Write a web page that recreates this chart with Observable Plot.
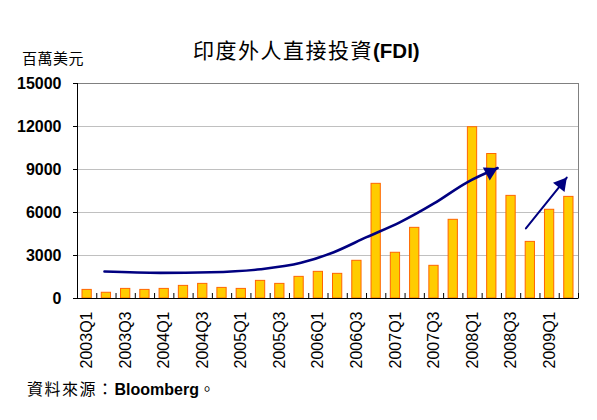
<!DOCTYPE html>
<html>
<head>
<meta charset="utf-8">
<script src="https://cdn.jsdelivr.net/npm/d3@7"></script>
<script src="https://cdn.jsdelivr.net/npm/@observablehq/plot@0.6"></script>
<style>
  html, body { margin: 0; padding: 0; background: #fff; }
  #wrap { position: relative; width: 597px; height: 420px; overflow: hidden; }
  .ov { position: absolute; white-space: nowrap; line-height: 1; color: #000; }
  .cjk { font-family: "Noto Sans CJK TC", "Noto Sans CJK SC", sans-serif; }
  .lat { font-family: "Liberation Sans", Arial, sans-serif; font-weight: bold; }
</style>
</head>
<body>
<div id="wrap">
  <div id="chart"></div>
  <div class="ov" style="left:193px; top:39px; font-size:21px;"><span class="cjk" style="letter-spacing:1.5px;">印度外人直接投資</span><span class="lat" style="font-size:20.5px;">(FDI)</span></div>
  <div class="ov cjk" style="left:22px; top:50px; font-size:15px; letter-spacing:0.5px;">百萬美元</div>
  <div class="ov" style="left:27px; top:380px; font-size:16px;"><span class="cjk" style="letter-spacing:1.5px;">資料來源：</span><span class="lat" style="font-size:16px;">Bloomberg</span><span class="cjk">。</span></div>
</div>
<script>
const quarters = [
  "2003Q1","2003Q2","2003Q3","2003Q4",
  "2004Q1","2004Q2","2004Q3","2004Q4",
  "2005Q1","2005Q2","2005Q3","2005Q4",
  "2006Q1","2006Q2","2006Q3","2006Q4",
  "2007Q1","2007Q2","2007Q3","2007Q4",
  "2008Q1","2008Q2","2008Q3","2008Q4",
  "2009Q1","2009Q2"
];
const fdi = [
  600, 400, 670, 600,
  670, 880, 1020, 740,
  670, 1230, 1020, 1510,
  1860, 1720, 2630, 8000,
  3190, 4930, 2280, 5490,
  11950, 10080, 7160, 3950,
  6190, 7090
];
const tickLabels = ["2003Q1","2003Q3","2004Q1","2004Q3","2005Q1","2005Q3","2006Q1","2006Q3","2007Q1","2007Q3","2008Q1","2008Q3","2009Q1"];
const yTicks = [0, 3000, 6000, 9000, 12000, 15000];
const gridValues = [3000, 6000, 9000, 12000];
// trend arrow (x in quarter-index units, y in 百萬美元)
const trendX = [1.4, 4.3, 6.9, 9.5, 11.6, 13.3, 15.0, 16.75, 18.5, 20.2, 21.8];
const trendY = [1880, 1790, 1830, 2040, 2490, 3230, 4280, 5330, 6630, 8090, 9100];
const arrow2X = [23.27, 25.39];
const arrow2Y = [4885, 8440];

const bars = fdi.map((v, i) => ({i, q: quarters[i], v}));
const boundaries = d3.range(quarters.length + 1);
const trend = trendX.map((x, k) => ({x, y: trendY[k]}));
const arrow2 = arrow2X.map((x, k) => ({x, y: arrow2Y[k]}));
const labelPos = tickLabels.map(t => quarters.indexOf(t) + 0.5);
const navy = "#000080";
const latin = "Liberation Sans";

const chart = Plot.plot({
  width: 597,
  height: 420,
  marginLeft: 77,
  marginRight: 19,
  marginTop: 83,
  marginBottom: 122,
  style: {fontFamily: latin, fontSize: "13px", color: "#000", background: "#fff"},
  x: {domain: [0, quarters.length], label: null},
  y: {domain: [0, 15000], label: null},
  marks: [
    Plot.gridY(gridValues, {stroke: "#c0c0c0", strokeOpacity: 1}),
    Plot.frame({stroke: "#808080"}),
    Plot.rectY(bars, {x1: d => d.i, x2: d => d.i + 1, y1: 0, y2: d => d.v, insetLeft: 5, insetRight: 5, fill: "#ffcc00", stroke: "#ff6600", strokeWidth: 1}),
    Plot.ruleX([0], {stroke: "#000"}),
    Plot.ruleY([0], {stroke: "#000"}),
    Plot.tickX(boundaries, {x: d => d, stroke: "#000", insetTop: 210}),
    Plot.axisY(yTicks, {tickSize: 4, tickPadding: 12, stroke: "#000", fontFamily: latin, fontWeight: "bold", fontSize: 16, tickFormat: d => String(d)}),
    Plot.axisX(labelPos, {tickSize: 0, tickPadding: 13, tickRotate: -90, fontFamily: latin, fontSize: 16, tickFormat: (d, k) => tickLabels[k] ?? quarters[Math.floor(d)]}),
    Plot.line(trend, {x: "x", y: "y", curve: "monotone-x", stroke: navy, strokeWidth: 2.6}),
    Plot.dot(trend.slice(-1), {x: "x", y: "y", symbol: "triangle", r: 5.5, fill: navy, rotate: 62, dx: -7.5, dy: 4}),
    Plot.line(arrow2, {x: "x", y: "y", stroke: navy, strokeWidth: 2}),
    Plot.dot(arrow2.slice(-1), {x: "x", y: "y", symbol: "triangle", r: 5.5, fill: navy, rotate: 39, dx: -5.3, dy: 6.6})
  ]
});
document.getElementById("chart").appendChild(chart);
</script>
</body>
</html>
